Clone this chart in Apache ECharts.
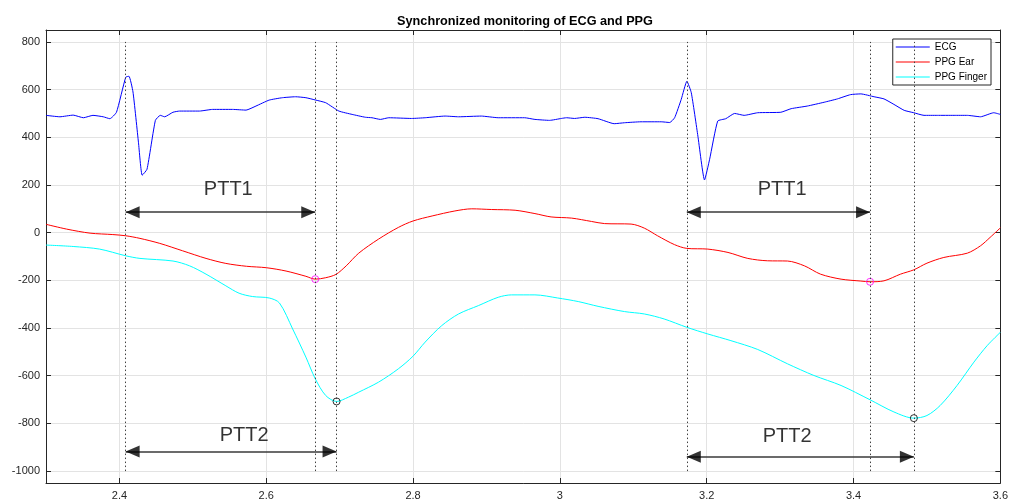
<!DOCTYPE html>
<html>
<head>
<meta charset="utf-8">
<script src="https://cdn.jsdelivr.net/npm/echarts@6/dist/echarts.min.js"></script>
<style>html,body{margin:0;padding:0;background:#fff}#c{width:1011px;height:501px}</style>
</head>
<body>
<div id="c"></div>
<script>
// ---- data ----
var xTicks = [2.4, 2.6, 2.8, 3.0, 3.2, 3.4, 3.6];
var yTicks = [-1000, -800, -600, -400, -200, 0, 200, 400, 600, 800];

var ecgT = [2.300,2.319,2.337,2.351,2.364,2.378,2.387,2.396,2.4086,2.413,2.4185,2.426,2.431,2.4376,2.449,2.4557,2.4616,2.4729,2.482,2.509,2.527,2.554,2.5725,2.586,2.604,2.622,2.640,2.654,2.6676,2.681,2.699,2.717,2.735,2.744,2.7555,2.767,2.798,2.8165,2.8437,2.862,2.893,2.916,2.952,2.966,2.986,3.002,3.009,3.020,3.034,3.052,3.074,3.088,3.1105,3.138,3.1496,3.1563,3.1653,3.173,3.179,3.188,3.197,3.204,3.215,3.226,3.238,3.251,3.2695,3.301,3.315,3.337,3.360,3.378,3.396,3.410,3.428,3.4415,3.455,3.469,3.482,3.496,3.514,3.537,3.555,3.573,3.591,3.600];
var ecgV = [492,486,493,482,492,486,478,505,652,656,590,377,241,266,471,492,486,505,510,510,517,517,514,531,556,566,570,566,556,545,510,496,484,482,475,482,479,482,489,486,489,482,482,475,471,479,482,479,484,478,457,461,465,465,462,482,559,635,587,405,221,308,468,478,500,492,503,505,520,531,547,561,579,582,570,561,538,513,503,492,492,492,492,486,503,496];

var earT = [2.300,2.328,2.360,2.391,2.4086,2.428,2.455,2.486,2.518,2.545,2.573,2.600,2.627,2.654,2.6668,2.681,2.695,2.709,2.726,2.753,2.780,2.800,2.826,2.857,2.880,2.907,2.939,2.966,2.988,3.016,3.043,3.061,3.097,3.115,3.133,3.156,3.1729,3.2016,3.229,3.256,3.283,3.310,3.333,3.355,3.383,3.410,3.4225,3.4415,3.464,3.482,3.500,3.523,3.555,3.573,3.586,3.600];
var earV = [35,15,-2,-8,-13,-24,-45,-76,-108,-129,-141,-147,-161,-183,-195,-189,-175,-139,-86,-27,22,49,70,91,100,97,94,80,66,61,47,38,36,19,-13,-50,-66,-69,-83,-108,-118,-119,-139,-174,-195,-203,-206,-202,-174,-156,-128,-104,-86,-55,-20,20];

var fingerT = [2.300,2.337,2.373,2.4086,2.428,2.473,2.4955,2.518,2.545,2.563,2.5815,2.604,2.618,2.636,2.654,2.6668,2.681,2.6958,2.712,2.726,2.753,2.780,2.800,2.8165,2.839,2.862,2.889,2.916,2.934,2.966,2.997,3.025,3.052,3.088,3.115,3.142,3.1729,3.2016,3.233,3.2695,3.310,3.346,3.383,3.4225,3.455,3.4822,3.500,3.518,3.541,3.564,3.582,3.600];
var fingerV = [-52,-58,-69,-97,-108,-119,-139,-174,-223,-254,-268,-274,-295,-404,-522,-613,-683,-708,-690,-669,-627,-571,-518,-459,-390,-341,-306,-271,-261,-261,-274,-289,-309,-331,-341,-362,-397,-425,-453,-490,-550,-599,-641,-701,-752,-778,-767,-725,-641,-543,-474,-418];

var earMarkT = [2.6668, 3.4225];
var earMarkV = [-195, -206];
var fingerMarkT = [2.6958, 3.4822];
var fingerMarkV = [-708, -778];

var dividerT = [2.4085, 2.6668, 2.6958, 3.1729, 3.4225, 3.4822];
var dividerRange = [-1000, 800];

// arrows: start time, end time, level
var arrowStart = [2.4085, 3.1729, 2.4085, 3.1729];
var arrowEnd   = [2.6668, 3.4225, 2.6958, 3.4822];
var arrowLevel = [86, 86, -918, -940];

var noteText = ['PTT1', 'PTT1', 'PTT2', 'PTT2'];
var noteT = [2.5483, 3.3027, 2.570, 3.3095];
var noteV = [182, 182, -851, -856];

// ---- build ----
function zip(a, b) { return a.map(function (v, i) { return [v, b[i]]; }); }
function fmtX(v) { return String(Math.round(v * 10) / 10); }
function fmtY(v) { return String(v); }

var axisColor = '#262626';
var gridColor = '#e3e3e3';
var FONT = 'Liberation Sans, Arial, Helvetica, sans-serif';
var HEAD = [12, 14];

var dividerLines = dividerT.map(function (t) {
  return [{ coord: [t, dividerRange[0]] }, { coord: [t, dividerRange[1]] }];
});
var arrowLines = arrowStart.map(function (s, i) {
  return [{ coord: [s, arrowLevel[i]] }, { coord: [arrowEnd[i], arrowLevel[i]] }];
});
var arrowHeads = [];
arrowStart.forEach(function (s, i) {
  arrowHeads.push({ value: [s, arrowLevel[i]], symbolRotate: 90, symbolOffset: [HEAD[1] / 2, 0] });
  arrowHeads.push({ value: [arrowEnd[i], arrowLevel[i]], symbolRotate: -90, symbolOffset: [-HEAD[1] / 2, 0] });
});
var notes = noteText.map(function (t, i) { return { name: t, value: [noteT[i], noteV[i]] }; });

var option = {
  animation: false,
  backgroundColor: '#ffffff',
  title: {
    text: 'Synchronized monitoring of ECG and PPG',
    left: 520, top: 10, textAlign: 'center',
    textStyle: { fontFamily: FONT, fontSize: 12.7, fontWeight: 'bold', color: '#000' }
  },
  legend: {
    data: ['ECG', 'PPG Ear', 'PPG Finger'],
    icon: 'rect',
    orient: 'vertical', right: 20, top: 39,
    padding: [2, 4, 2, 3], itemGap: 3, itemWidth: 34, itemHeight: 1.2,
    borderColor: axisColor, borderWidth: 1, backgroundColor: '#fff',
    textStyle: { fontFamily: FONT, fontSize: 10, color: '#000', lineHeight: 12 }
  },
  grid: { left: 46, right: 7, top: 30, bottom: 16, containLabel: false },
  xAxis: [{
    type: 'value', min: 2.3, max: 3.6, position: 'bottom',
    axisLine: { show: true, onZero: false, lineStyle: { color: axisColor, width: 1 } },
    axisTick: { show: true, inside: true, length: 5, customValues: xTicks, lineStyle: { color: axisColor } },
    axisLabel: { customValues: xTicks, formatter: fmtX, fontFamily: FONT, fontSize: 11, color: axisColor, margin: 7 },
    splitLine: { show: true, lineStyle: { color: gridColor, width: 1 } }
  }, {
    type: 'value', min: 2.3, max: 3.6, position: 'top',
    axisLine: { show: true, onZero: false, lineStyle: { color: axisColor, width: 1 } },
    axisTick: { show: true, inside: true, length: 5, customValues: xTicks, lineStyle: { color: axisColor } },
    axisLabel: { show: false },
    splitLine: { show: false }
  }],
  yAxis: [{
    type: 'value', min: -1050, max: 850, position: 'left',
    axisLine: { show: true, onZero: false, lineStyle: { color: axisColor, width: 1 } },
    axisTick: { show: true, inside: true, length: 5, customValues: yTicks, lineStyle: { color: axisColor } },
    axisLabel: { customValues: yTicks, formatter: fmtY, fontFamily: FONT, fontSize: 11, color: axisColor, margin: 6 },
    splitLine: { show: true, lineStyle: { color: gridColor, width: 1 } }
  }, {
    type: 'value', min: -1050, max: 850, position: 'right',
    axisLine: { show: true, onZero: false, lineStyle: { color: axisColor, width: 1 } },
    axisTick: { show: true, inside: true, length: 5, customValues: yTicks, lineStyle: { color: axisColor } },
    axisLabel: { show: false },
    splitLine: { show: false }
  }],
  series: [
    {
      name: 'guides', type: 'line', data: [], silent: true, z: 1,
      markLine: {
        silent: true, symbol: ['none', 'none'], label: { show: false },
        lineStyle: { type: [1.5, 2.5], color: '#404040', width: 1 },
        emphasis: { disabled: true },
        data: dividerLines
      }
    },
    {
      name: 'ECG', type: 'line', data: zip(ecgT, ecgV), symbol: 'none', smooth: 0.15,
      lineStyle: { color: '#0000ff', width: 1 }, itemStyle: { color: '#0000ff' }, z: 3
    },
    {
      name: 'PPG Ear', type: 'line', data: zip(earT, earV), symbol: 'none', smooth: 0.3,
      lineStyle: { color: '#ff0000', width: 1 }, itemStyle: { color: '#ff0000' }, z: 3
    },
    {
      name: 'PPG Finger', type: 'line', data: zip(fingerT, fingerV), symbol: 'none', smooth: 0.3,
      lineStyle: { color: '#00ffff', width: 1 }, itemStyle: { color: '#00ffff' }, z: 3
    },
    {
      name: 'earMarks', type: 'scatter', data: zip(earMarkT, earMarkV), symbol: 'circle', symbolSize: 7,
      itemStyle: { color: 'rgba(0,0,0,0)', borderColor: '#ff00ff', borderWidth: 1 }, z: 4, silent: true
    },
    {
      name: 'fingerMarks', type: 'scatter', data: zip(fingerMarkT, fingerMarkV), symbol: 'circle', symbolSize: 7,
      itemStyle: { color: 'rgba(0,0,0,0)', borderColor: '#000000', borderWidth: 1 }, z: 4, silent: true
    },
    {
      name: 'arrows', type: 'line', data: [], silent: true, z: 5,
      markLine: {
        silent: true, symbol: ['none', 'none'],
        label: { show: false },
        lineStyle: { type: 'solid', color: '#3a3a3a', width: 1.6 },
        emphasis: { disabled: true },
        data: arrowLines
      }
    },
    {
      name: 'arrowHeads', type: 'scatter', data: arrowHeads, symbol: 'triangle', symbolSize: HEAD,
      itemStyle: { color: '#000' }, silent: true, z: 6
    },
    {
      name: 'notes', type: 'scatter', data: notes, symbolSize: 0, silent: true, z: 6,
      label: {
        show: true, position: 'inside', formatter: '{b}',
        fontFamily: FONT, fontSize: 20, color: '#000'
      }
    }
  ]
};

var chart = echarts.init(document.getElementById('c'), null, { renderer: 'canvas' });
chart.setOption(option);
</script>
</body>
</html>
